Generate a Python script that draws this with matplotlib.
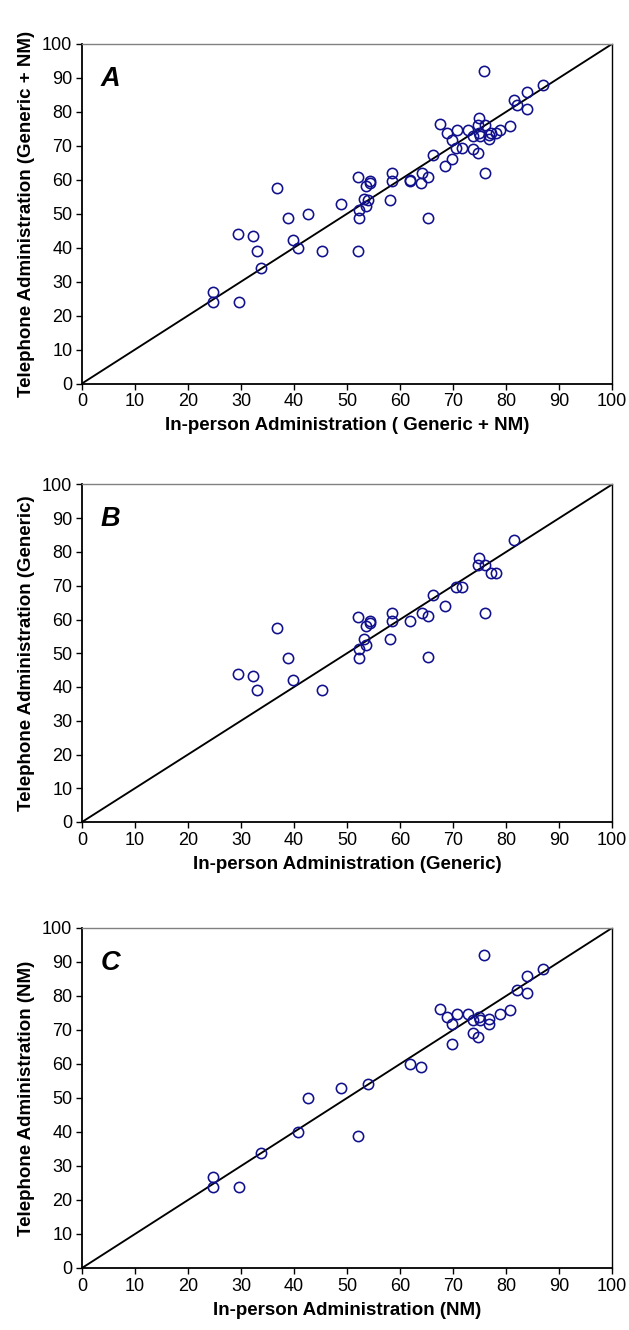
import matplotlib
matplotlib.use("Agg")
import matplotlib.pyplot as plt
import numpy as np

plt.rcParams['font.family'] = ['Liberation Sans', 'DejaVu Sans']

# Generic items (panel B)
generic_inperson = [29.5, 32.3, 33.1, 36.7, 38.8, 39.9, 45.3,
                    52.1, 54.3, 54.4, 53.5, 53.2, 53.5, 52.3, 52.3,
                    58.5, 58.5, 58.2, 61.8, 64.1, 65.2, 65.2, 66.3,
                    68.5, 70.6, 71.7, 74.9, 74.8, 76.1, 76.1, 77.2,
                    78.2, 81.5]
generic_phone = [43.9, 43.3, 39.1, 57.5, 48.7, 42.2, 39.0,
                 60.7, 59.6, 59.1, 58.2, 54.2, 52.3, 51.2, 48.7,
                 61.9, 59.7, 54.1, 59.7, 61.9, 60.9, 48.8, 67.2,
                 64.1, 69.5, 69.5, 78.2, 76.1, 76.1, 61.9, 73.8,
                 73.8, 83.6]

# NM items (panel C)
nm_inperson = [24.7, 24.7, 29.7, 33.8, 40.7, 42.7, 48.8, 53.9, 52.0,
               61.9, 63.9, 67.5, 68.9, 69.8, 70.8, 72.8, 73.8, 74.9,
               75.1, 73.8, 74.8, 69.8, 75.9, 76.8, 76.8, 78.8, 80.8,
               82.0, 84.0, 84.0, 86.9]
nm_phone = [26.9, 23.9, 23.9, 33.9, 39.9, 49.9, 52.9, 54.0, 38.9,
            59.9, 59.0, 76.3, 73.9, 71.8, 74.8, 74.8, 72.9, 73.9,
            72.9, 69.0, 67.9, 66.0, 92.0, 73.1, 71.9, 74.8, 75.9,
            81.9, 85.9, 80.9, 87.9]

ticks = list(range(0, 101, 10))

panels = [
    ("A", generic_inperson + nm_inperson, generic_phone + nm_phone,
     "In-person Administration ( Generic + NM)",
     "Telephone Administration (Generic + NM)"),
    ("B", generic_inperson, generic_phone,
     "In-person Administration (Generic)",
     "Telephone Administration (Generic)"),
    ("C", nm_inperson, nm_phone,
     "In-person Administration (NM)",
     "Telephone Administration (NM)"),
]

W, H = 629, 1330
fig = plt.figure(figsize=(W / 100, H / 100), dpi=100)

# (top, bottom) pixel positions of each axes
pix = [(44, 383.5), (484.5, 822), (928, 1268)]
left_px, right_px = 82, 612

for (letter, xs, ys, xl, yl), (t, b) in zip(panels, pix):
    ax = fig.add_axes([left_px / W, 1 - b / H, (right_px - left_px) / W, (b - t) / H])
    ax.set_xlim(0, 100)
    ax.set_ylim(0, 100)
    ax.plot([0, 100], [0, 100], color='black', lw=1.35, zorder=2)
    ax.plot(xs, ys, linestyle='none', marker='o', markersize=7.4,
            markerfacecolor='none', markeredgecolor='#10108c',
            markeredgewidth=1.15, zorder=3)
    ax.set_xticks(ticks)
    ax.set_yticks(ticks)
    ax.tick_params(axis='both', direction='out', length=4, width=1,
                   labelsize=13, pad=3, color='black')
    for s in ['left', 'bottom']:
        ax.spines[s].set_color('black')
        ax.spines[s].set_linewidth(1.3)
    ax.spines['top'].set_color('#808080')
    ax.spines['right'].set_color('black')
    ax.spines['top'].set_linewidth(1.0)
    ax.spines['right'].set_linewidth(1.0)
    ax.set_xlabel(xl, fontsize=13.5, fontweight='bold', labelpad=5)
    ax.set_ylabel(yl, fontsize=13.5, fontweight='bold', labelpad=5)
    ax.text(3.5, 93.5, letter, fontsize=19.5, fontweight='bold', fontstyle='italic',
            ha='left', va='top')

fig.savefig('out.png', dpi=100)
